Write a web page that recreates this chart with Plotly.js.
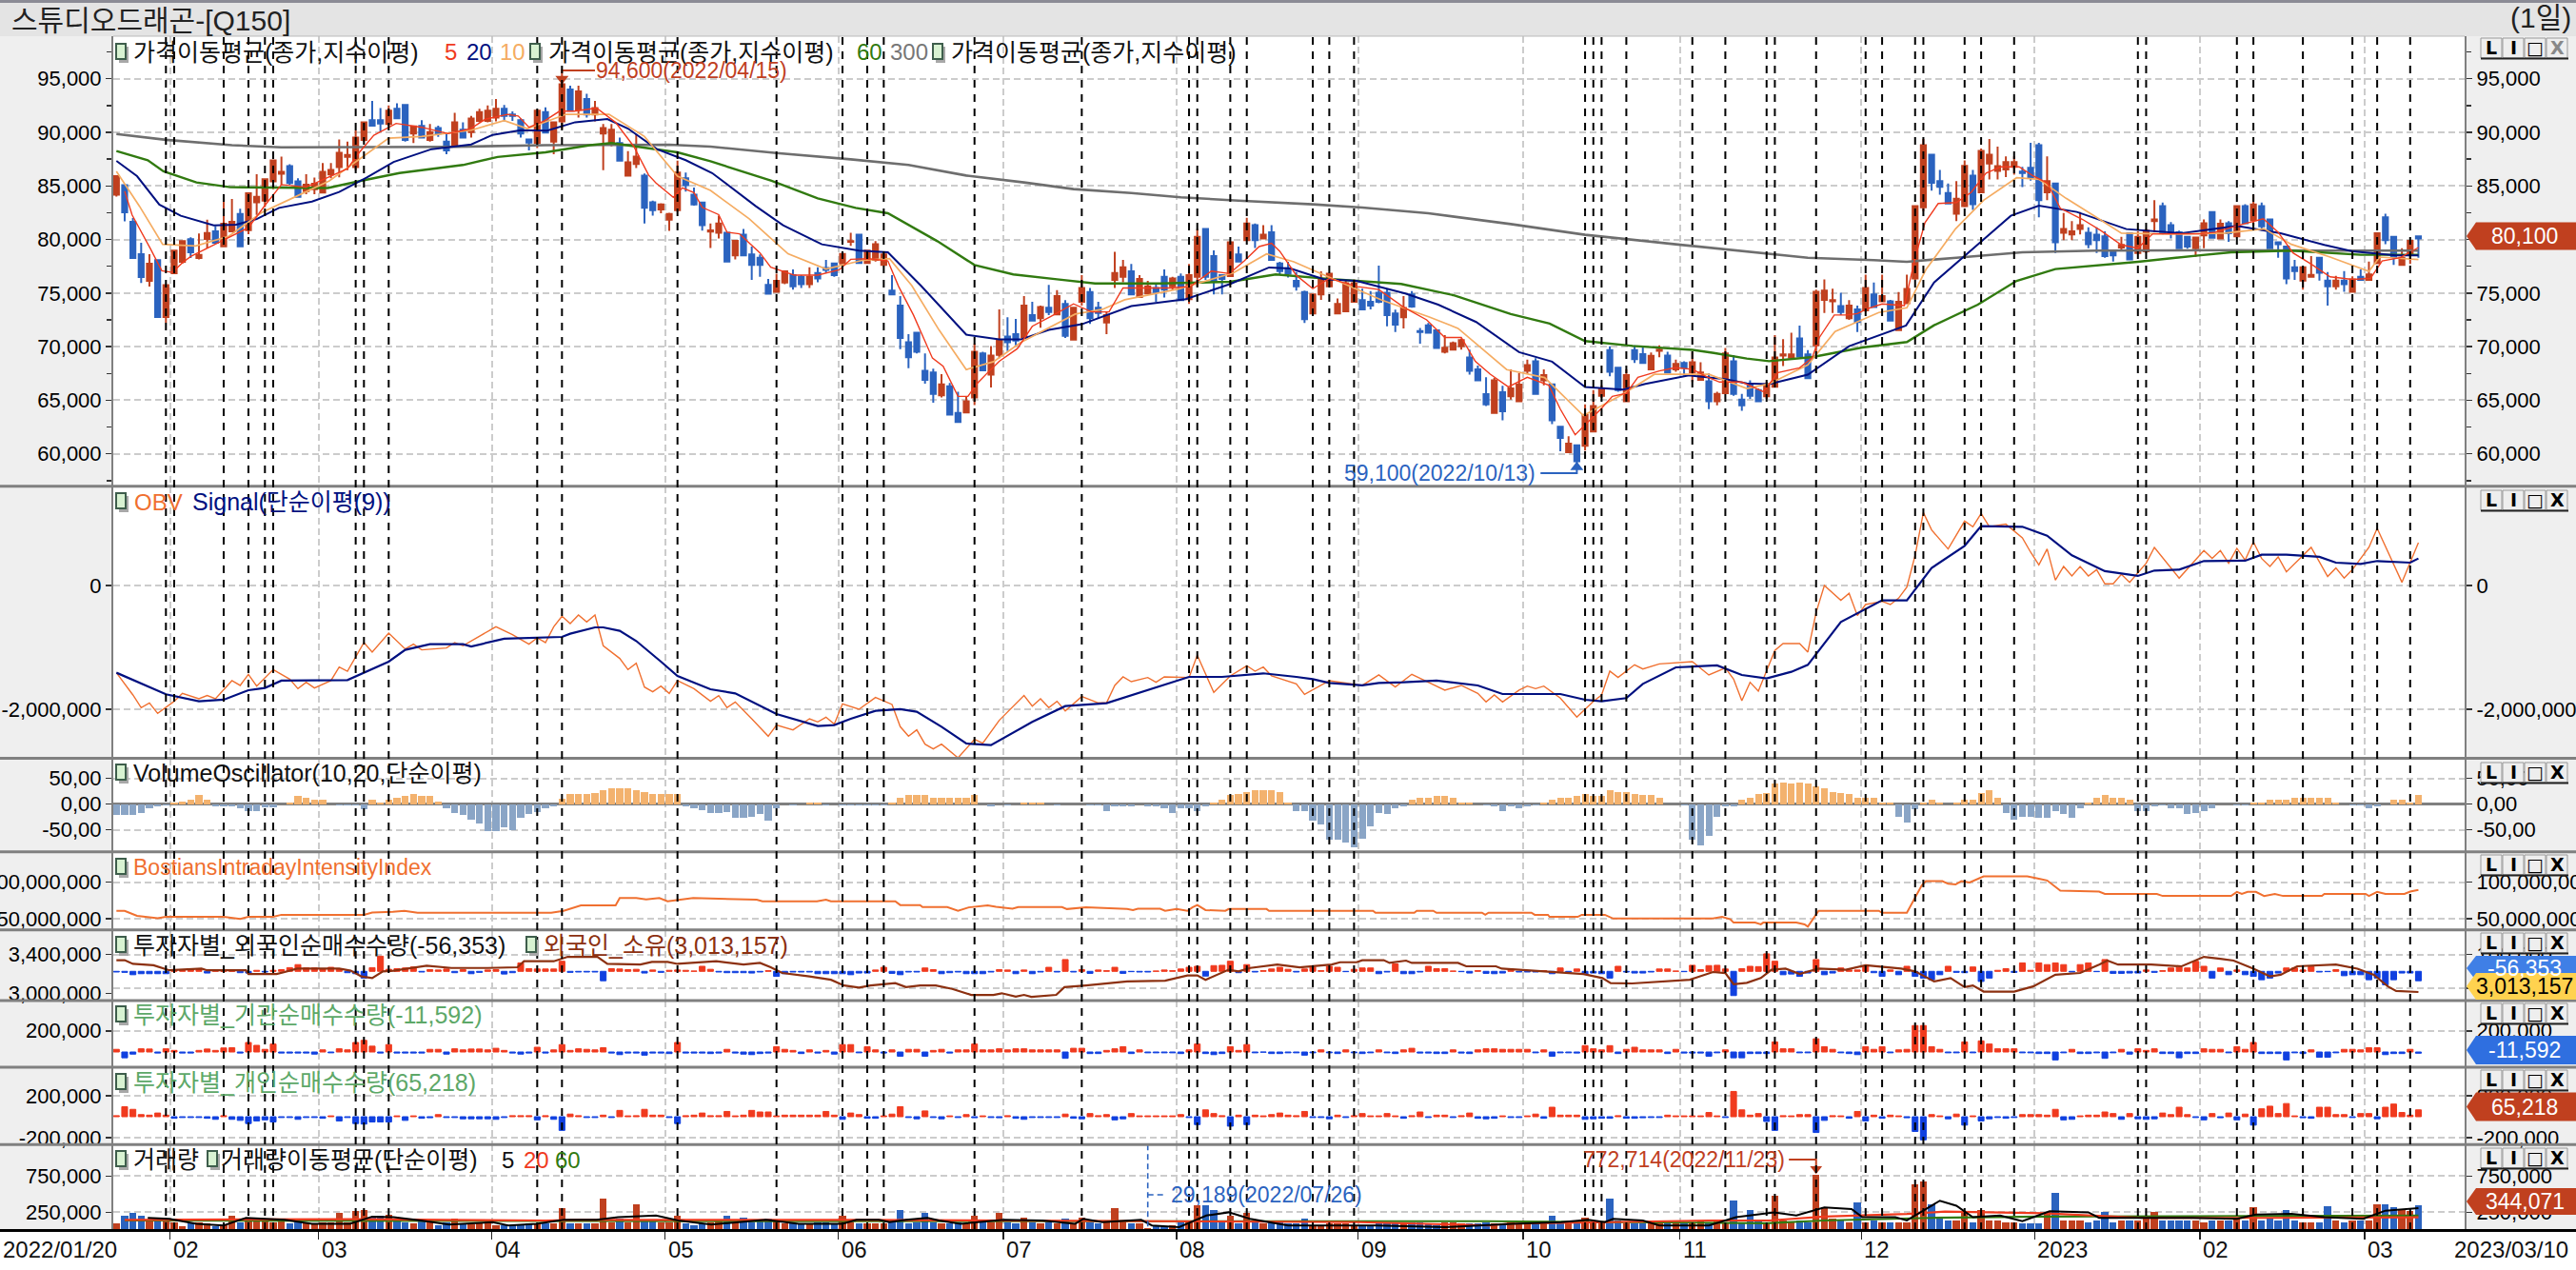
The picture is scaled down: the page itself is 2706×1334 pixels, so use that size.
<!DOCTYPE html>
<html><head><meta charset="utf-8">
<script src="https://cdn.plot.ly/plotly-3.0.1.min.js"></script>
<style>html,body{margin:0;padding:0;background:#fff;overflow:hidden}#c{width:2706px;height:1334px}</style>
</head><body><div id="c"></div>
<script>
// ---------- DATA ----------
const priceOpen=[84170,85060,81640,78630,76130,78070,72770,76850,77920,80030,
78270,80060,80770,79370,80770,82380,80860,83480,83630,85420,
86130,86840,85420,84520,84680,84370,86070,86760,87710,86760,
89280,91130,91130,90770,92200,92560,89880,90600,89280,90390,
89140,88750,90240,90030,91070,91070,91370,92200,91670,91130,
89340,88990,91880,89140,91010,93990,92110,93100,91670,89880,
88990,88990,85950,87050,85950,83480,82800,81840,82740,85710,
84170,83450,80740,80620,80620,78510,80440,78600,78300,75770,
75120,75980,76670,76520,75830,76870,77350,77770,77770,79790,
80440,77800,78090,77620,75240,73840,70420,71310,67740,67590,
65450,66310,63810,63870,65270,69370,67380,69230,70950,71160,
70860,72950,72650,73630,73000,73990,70650,74190,75090,73630,
72260,76220,76520,77020,74640,74970,75470,76520,75620,76520,
74430,76520,80980,78450,76670,76580,78600,79940,81340,80090,
80680,77770,77320,76130,75090,73090,74880,75620,73090,73300,
74190,74340,74190,75030,75030,73090,72740,74880,71460,71990,
71520,69520,69730,70030,68990,67880,65560,63810,65740,65360,
64910,67740,68630,66850,66490,62530,60150,60800,60740,62080,
65420,69670,68030,64910,69670,69310,67890,69610,69170,67890,
68480,67590,66900,66760,64910,65650,68630,65060,66490,65950,
65360,66250,69170,68990,70770,69280,70120,74370,74230,73780,
72650,73480,73390,74880,74220,74220,71550,74050,76370,83000,
87910,85440,84340,82410,83120,85950,84400,87080,86400,86540,
86780,86340,86690,88810,84400,85230,80620,80470,80980,80620,
80440,80290,78980,79250,80590,78750,78900,81720,83120,81340,
80680,80240,79190,80380,82560,80090,81510,80290,83120,81810,
83120,81870,79730,79340,77410,76160,76520,78300,76160,75620,
76160,75120,76520,76220,77790,82080,80240,77620,78600,80300];
const priceHigh=[85920,85060,82000,79700,78630,78070,75740,78960,79850,80210,
80560,81840,81250,83780,83780,82880,84310,86100,85620,87380,
87740,87020,85710,86100,85770,87140,87140,89340,89140,90180,
90920,92920,92260,92500,92710,92560,90560,91130,90770,90620,
89820,91810,90920,91520,92200,92500,93100,92560,91960,91280,
89340,92020,92320,90920,94600,94340,94340,93600,92920,90770,
90770,89520,88240,89840,86160,83630,83390,82500,87350,86250,
84850,83450,81490,82230,80620,79880,80980,79340,78600,76310,
76800,77020,77200,76670,77410,77410,78090,77770,78900,80620,
80440,78960,79850,78900,76670,74730,71160,71310,69370,67950,
67440,66610,65800,65360,70270,69520,70060,73480,72740,72590,
74730,74190,73840,75770,75270,74340,73630,76670,75480,74190,
73240,78840,78090,77710,76670,76130,75920,77200,76520,76820,
77710,80980,80980,78990,76670,79850,79340,82030,81490,81340,
81340,77910,77910,76960,75240,74880,77020,76810,74490,76280,
76280,75410,75180,77560,75410,73450,74730,75180,71750,72200,
71520,71070,70470,70770,69730,68240,67140,67080,66340,67890,
67530,68780,68930,67890,66490,62530,61640,60800,64610,65950,
66400,70030,68030,67890,70120,69970,69460,70120,69520,68780,
68630,69520,68540,67500,65800,69880,69220,65590,66850,66100,
66700,71070,70710,71310,71960,69670,75330,76280,75410,75030,
74340,73840,76720,75980,76720,74370,75090,76720,83120,89370,
87910,86480,85230,85440,87380,86480,88480,89370,88660,87760,
87760,86780,89010,89010,87760,85230,82470,81720,82560,81130,
81130,80770,78980,80240,80590,80770,80980,83660,83450,81630,
80830,80240,80180,81870,82560,81870,81720,83120,83300,84190,
83450,81870,79730,79340,78090,77410,78450,78300,76960,76600,
77050,76570,77200,77940,80680,82410,80240,79190,79880,80300];
const priceLow=[84000,81700,78270,75950,75600,72770,72230,76850,77740,78270,
78130,79170,79700,79370,80770,79370,80500,82290,83030,84680,
85120,85120,83990,84230,84230,84370,85710,85800,86460,86460,
89140,90620,90030,90620,91220,89140,88990,89520,89140,89580,
87950,88750,89520,89520,90920,90920,91010,91010,91070,89520,
88300,88540,89970,87950,90330,92020,91370,91370,91010,86460,
88690,87260,85950,86660,81490,82230,82440,80800,82600,84460,
83150,80830,79200,80090,77950,78150,78510,76220,76520,74940,
75030,75830,75330,75480,75480,76010,76870,76520,77710,79400,
77800,77800,77950,77620,74880,69760,67980,69370,66550,64760,
65270,63660,62980,63870,64550,67800,66190,68930,69580,70120,
70860,72440,71760,72950,73000,70800,70650,73840,72110,72650,
71160,75480,76010,74880,74640,74880,74190,74580,75330,74340,
73990,75620,76220,74880,74880,76520,77950,79940,79200,80090,
78090,76720,76460,75240,72200,73090,74370,75620,73090,73300,
74190,73480,73480,74050,71900,71370,71700,73630,70270,71310,
69880,69370,69730,69730,67380,66850,64460,63810,63120,65060,
64910,67440,65590,66400,62770,60240,60060,59100,60300,62080,
65210,67230,65800,64910,68480,68480,67890,69010,67590,67650,
67290,66700,66900,64170,64520,65650,65420,64020,65120,64910,
65120,66250,68180,68990,69070,67050,69220,73150,73150,72950,
72500,71370,73240,73690,74220,72440,71550,74050,76220,82620,
84550,84190,83360,81720,83000,82760,84400,85590,85590,85830,
86040,84900,85500,82080,83660,78750,79940,79940,80470,79190,
78750,78300,77940,79050,78150,78750,78750,80680,80470,80090,
79190,79130,78390,79190,80150,80090,79790,80290,81510,81280,
80830,79190,78300,75830,76220,75330,76500,76160,73840,75330,
75120,75120,76220,76220,77710,79550,77620,77620,77710,78300];
const priceClose=[85920,82530,78270,76490,77740,72770,75740,78960,79850,78810,
78570,80600,79700,81460,81640,79370,84310,83990,85620,87380,
86310,85270,83990,85120,85210,86310,86490,88090,87890,89520,
90920,90620,90830,92020,91310,89280,90560,89520,90030,89880,
88300,90920,89520,91280,91880,92020,92200,91520,91520,89880,
89050,92020,89970,90920,94490,92020,93810,91670,92260,90390,
90240,87350,87200,87740,82950,82740,83270,82380,86250,85060,
83270,81340,80840,81490,77950,79880,78510,77620,77620,74940,
76130,77020,75620,75830,76520,76370,77170,76670,78660,79860,
77800,78960,79550,78600,74880,70800,69020,69520,66900,65600,
66490,63660,62980,64910,69520,67800,69170,70560,70420,70560,
73840,72440,73690,73240,74730,71010,73630,75480,72650,73150,
72950,76870,77410,74880,76310,75620,75090,75330,76370,74340,
76670,80240,76520,76130,76310,79730,77950,81490,79940,80440,
78090,77050,76810,75620,72560,74880,76220,76810,73990,75920,
75920,73480,73840,74190,72950,72050,73600,73750,71370,71310,
69880,69910,70330,70620,67740,66850,64610,66850,63960,66100,
66460,68270,65590,67350,63120,61490,60950,59300,63630,64460,
66100,67650,65950,67350,68840,68480,69140,69730,67590,68390,
68030,68540,67590,64910,65590,69370,65590,64520,65420,64910,
66490,68990,69280,69280,69070,67050,75120,75240,74340,73240,
73840,72290,75470,73690,74730,72440,74190,75380,83120,88810,
85290,84910,83360,83810,86870,83300,88270,87910,86840,87230,
87230,86190,85830,83660,85440,79730,80980,80770,81340,79550,
79940,78450,78510,79490,78150,80240,80830,81870,80680,80620,
79190,79340,80180,81510,80150,81480,80590,83120,81510,83270,
81220,79190,79550,76370,77050,77410,76700,76900,75620,76160,
75830,76280,76220,76750,80590,79940,78360,78300,79880,80100];

const ma5Idx=[1,1.9,4.1,5.5,6.8,8,9,11.4,13,16,18,20,23,25.3,28,29.4,31.2,33.9,37,40.2,42.9,44.7,47.4,48.7,50,51.9,53.7,55.5,58.2,60.5,62.7,64.5,65.4,67.5,68.6,70,71,73,74,75.5,78,79.3,82.2,85,87.6,89,91.2,93.5,94.8,96.6,98.9,100.2,102,103.2,104.3,106,107,109.2,111,113.2,116,118.2,120.3,122,124.5,127.7,130.2,132.7,134.9,136.7,138.5,140,141,143,145,147,150.3,153,156,158.8,161,163,164.7,166.5,168.7,171,173.6,175,176.8,178,179.9,181.3,183,184.4,187,188.9,191,192.9,194.3,197,199.6,201.4,204,205.5,206.4,208.2,209.7,211,212.2,214,216.7,218,219.2,220.8,223,224.8,226.6,228.4,230.6,232.4,234,235.6,238.3,240.5,243,245,246.8,250,252.6,254.4,257,260.2,262,263.8,266,268.3,271,273.2,274.6,276.8,279];
const ma5Val=[84500,82290,79170,77080,76930,77830,78420,79320,79910,81100,83180,85120,84880,85700,86600,88090,89730,90830,90470,89880,90330,91220,91670,91520,90470,91070,91970,91970,92260,90920,88690,86010,85270,83930,84820,84370,83000,82320,80680,80530,78750,77410,76670,76670,77170,78150,78210,78000,75620,72950,68930,68180,65360,65360,66550,67890,68630,69820,71900,72800,73990,73240,73240,75480,75480,75480,75620,77050,76820,78010,79340,79640,78900,76660,75410,76370,75620,75330,73690,72500,70860,70860,68630,67440,66250,67140,66400,64170,61780,62680,64170,65360,65650,67140,67740,68030,67890,67140,66700,66700,65800,67590,68030,68930,70860,72950,72950,73090,73540,73990,73840,78300,81570,83360,83450,84400,86190,86780,86780,85890,85290,82910,81870,80830,79490,79190,80530,80530,80530,80680,81280,81930,80680,78750,77710,76520,76280,76370,78000,78300,79250];
const ma10Idx=[0,2.8,5.6,9.6,13.6,17.6,21.7,25.8,29,33,37,43,47,49.8,54.5,59.7,64,68,72,76.7,81.4,86,90.5,93.7,96.4,99.7,103,106.3,109.6,112.9,116.2,119.5,122.2,128.8,135.4,139.4,142.7,148,153.3,159.2,162.6,168.5,173.1,177.8,182.4,186.4,193,197.6,200.3,205,208.3,213.6,217,219.3,222.9,226.3,230.3,233,236.3,240.3,243,248.9,255.6,260.3,263.6,268.3,273,274.3,279];
const ma10Val=[86360,83100,79550,79400,80290,82510,83990,85470,87240,89460,89610,90200,91090,90350,91680,91680,89610,85910,84580,81920,78660,77240,78070,78210,75700,71560,67860,68600,70380,71710,73040,73480,74370,75400,76890,78660,77920,76140,74370,72740,71710,67860,67120,63570,65490,67420,67420,66090,66530,68300,71410,73190,73630,77180,81000,83660,85760,85610,83840,81920,80590,80500,80590,81000,79550,78360,77030,78360,78130];
const ma20Idx=[0,2.5,5.2,7.8,11.8,14.5,17,19.7,23.7,27,30.3,33.6,38.2,43,45.6,49,52.2,55.6,59.5,62,65.5,69,72.2,77.5,80.8,85.5,90,93.5,97.5,100,103,107,109.6,113,117,123,129.6,135,139.7,142.3,146.3,150.3,156.2,160.2,164.8,170,174,178,182.6,185.3,190.6,195,197.6,200.3,205,210,216.9,220.3,225.6,229.6,233,237.6,243.6,250.3,257,262.3,267.6,271,276.3,279];
const ma20Val=[87330,85910,83250,82210,81320,81380,81900,82950,83540,84430,85760,87240,88430,88870,89760,90200,90150,90940,91240,90350,88430,87400,86200,83100,81320,79550,78960,78810,75700,73630,71120,70670,70670,71560,72090,73780,74430,75850,77390,77300,76290,76140,74960,73920,72300,69490,68600,66230,66000,66530,67320,66960,66570,66500,67390,70050,71980,75990,79550,82210,83160,82570,80970,80590,81270,80590,79490,78900,78510,78510];
const ma60Idx=[0,3.8,5.7,9.7,13.8,19,25.6,29.6,34.3,42,46.2,52,57.4,60,68,72,79.4,85,89.6,93.5,99.5,104,108.7,114,118.6,126.5,135,140.5,146.5,155.7,162,169,173.7,178,183.8,191,193.6,197.6,200.3,205.6,211.6,217,220.3,225.6,230.3,235,245,252.3,256.3,263.6,272,279];
const ma60Val=[88250,87400,86360,85320,84880,84820,84800,85470,86200,86950,87700,88130,88800,89000,88130,87300,85470,83840,82950,82450,79840,77620,76740,76290,75900,75900,76050,76740,76350,75850,74810,73040,72150,70520,70070,69700,69410,68890,68650,69030,69920,70430,72000,73920,76140,77240,77920,78510,78810,78960,78570,78570];
const ma300Idx=[0,6,14,20,41,52,67,72,80,89,96,103,110,116,123,129,136,145,151,159,169,178,189,193,200,205,213,217,223,231,240,257,267,279];
const ma300Val=[89850,89300,88800,88600,88650,88800,88850,88660,88070,87480,86950,85970,85320,84700,84340,83930,83630,83280,82980,82450,81440,80440,79550,79250,78660,78300,78070,77920,78300,78810,78960,79010,78960,78960];

const obvIdx=[0,2,3,4,5,7,8,10,11,12,14,15,16,17,19,21,22,23,24,26,27,28,30,31,33,35,36,37,40,41,42,44,46,48,50,51,52,53,54,55,56,57,58,59,61,62,63,64,65,66,67,68,70,72,73,74,75,77,79,80,82,84,85,86,87,88,90,92,94,95,96,97,98,99,100,102,104,105,107,110,111,112,113,114,115,117,119,120,121,122,123,125,126,127,130,131,133,135,137,138,139,140,143,144,146,147,151,153,155,157,159,161,163,165,166,167,168,170,171,172,173,175,177,179,180,181,182,184,185,187,191,193,195,196,197,198,199,200,201,202,204,205,206,207,209,210,211,212,214,215,216,217,218,219,220,222,224,225,226,227,229,231,232,233,234,235,236,237,238,239,240,241,242,243,244,246,247,250,253,254,255,256,257,258,259,260,261,262,263,266,268,269,270,271,273,274,276,277,279];
const obvK=[-1410,-1769,-1974,-1897,-2067,-1872,-1744,-1831,-1779,-1831,-1538,-1615,-1436,-1626,-1359,-1513,-1667,-1564,-1656,-1538,-1318,-1385,-923,-1077,-769,-1026,-949,-1041,-1010,-923,-974,-820,-667,-795,-949,-846,-923,-667,-497,-615,-477,-590,-477,-974,-1179,-1359,-1256,-1641,-1718,-1626,-1744,-1538,-1667,-1872,-1779,-1974,-1882,-2154,-2436,-2256,-2333,-2154,-2205,-2128,-2241,-1913,-2000,-1810,-1923,-2282,-2436,-2333,-2564,-2641,-2564,-2785,-2487,-2549,-2179,-1779,-1949,-1831,-1974,-1872,-2026,-1795,-1897,-1897,-1615,-1477,-1554,-1487,-1564,-1477,-1487,-1128,-1728,-1462,-1297,-1385,-1318,-1462,-1590,-1759,-1605,-1538,-1615,-1446,-1641,-1436,-1564,-1692,-1615,-1744,-1882,-1769,-1882,-1692,-1626,-1667,-1626,-1820,-2128,-1872,-1769,-1385,-1487,-1282,-1349,-1267,-1231,-1446,-1333,-1513,-1861,-1564,-1708,-1385,-1051,-938,-938,-1077,-436,0,-241,-128,-487,-308,-256,-308,-205,-26,487,1179,897,590,1041,949,1164,949,990,769,538,333,590,87,308,154,308,154,256,26,26,179,51,359,615,118,564,436,564,359,600,410,703,436,308,462,220,615,144,282,118,256,615,923,359,51,692];
const sigIdx=[0,6,10,13,16,18,20,28,33,35,38,42,43,47,54,55,58,59,61,63,66,68,72,75,80,85,87,89,92,95,97,100,103,106,111,115,120,125,130,134,136,139,143,145,147,151,153,156,160,165,168,175,178,180,183,185,189,194,197,200,203,205,209,214,217,220,224,226,231,234,237,241,245,247,250,253,258,260,263,267,269,272,274,278,279];
const sigK=[-1410,-1759,-1872,-1846,-1692,-1656,-1538,-1528,-1231,-1041,-949,-949,-985,-861,-831,-779,-677,-677,-733,-897,-1231,-1462,-1677,-1744,-2077,-2272,-2256,-2154,-2026,-2000,-2041,-2282,-2554,-2579,-2205,-1949,-1902,-1692,-1477,-1477,-1451,-1420,-1477,-1513,-1574,-1615,-1574,-1564,-1538,-1615,-1754,-1754,-1846,-1872,-1820,-1590,-1323,-1292,-1446,-1503,-1395,-1282,-590,-241,-241,282,641,959,949,805,487,231,154,241,256,395,400,497,497,462,369,349,395,369,436];

const voValues=[-21,-21,-21,-17,-8,-5,-3,4,5,9,
17,9,-5,-5,-4,-8,-13,-13,-7,-6,
-1,4,16,12,8,8,0,-3,-3,-3,
-10,8,3,8,12,16,19,16,16,5,
-8,-17,-21,-30,-37,-53,-53,-45,-50,-27,
-20,-15,-8,-4,10,19,19,19,22,27,
31,31,31,27,23,20,20,20,20,-5,
-8,-12,-17,-17,-16,-27,-27,-24,-20,-32,
-8,0,-3,0,4,4,-3,0,-3,-3,
-3,-3,-3,-3,4,13,17,17,17,12,
12,12,12,12,17,0,-4,0,-3,0,
4,4,4,0,-3,0,0,0,-3,-3,
-13,-4,-4,-4,0,-4,-4,-8,-17,-8,
-8,-13,-4,4,8,17,19,23,27,27,
27,23,4,-13,-13,-33,-40,-70,-70,-75,
-83,-67,-43,-17,-20,-8,-4,8,12,12,
16,16,12,4,3,0,-3,-4,-13,-4,
-8,-4,-3,4,8,12,12,16,19,16,
16,27,23,23,19,17,17,12,0,0,
-3,-70,-80,-62,-25,-4,-4,8,12,19,
22,40,42,40,42,40,35,30,24,22,
20,12,12,12,4,4,-25,-36,-10,4,
8,4,0,4,8,8,22,27,12,-17,
-30,-24,-24,-27,-27,-13,-20,-27,-8,4,
13,17,13,12,8,-13,-13,-4,-3,-8,
-8,-20,-17,-13,-8,0,0,-3,-3,4,
4,8,8,8,12,12,12,12,12,4,
0,-3,-3,-8,-4,0,8,8,4,17];

const biiIdx=[0,1,2.5,5,6,13,15,16,19,20,30,31,33.5,34.9,36.5,52.7,54.2,56.3,60.5,61,63,64.2,65.8,66.8,69.9,77.6,78.3,84.9,86,86.6,94.4,95,97.4,97.7,100.7,102,103.3,105.6,106.6,108.6,109.3,114.6,115.2,117.5,122.5,123.2,123.8,126.5,127.1,128.5,129.8,130.4,131,132,134.4,134.8,139.4,139.7,152.3,152.6,157.3,157.6,159.6,160,165.5,165.9,166.3,171.5,171.9,173.5,173.7,177.1,177.6,180.4,181.4,193.5,194.6,195.6,196,198.6,199.3,199.6,203.6,204.6,205,205.6,206.3,213.6,214,217,218,218.8,219.3,221.3,222,222.9,223.6,224.6,226.3,231.6,233,234,235.6,240.3,241,247.3,248,252.6,256.3,257,257.6,258.3,259.3,260.3,261.6,262.6,267.3,267.6,272.6,273,274,275,277.3,278,279];
const biiVal=[60.6,60.6,53.7,50.5,52.3,52.3,49.5,52.3,52.3,55.1,55.1,58.3,59.3,60.6,57.9,57.9,60.6,68,68,78.2,78.2,76.4,78.2,73.6,78.2,75.9,73.6,73.6,75.9,73.6,73.6,68.5,68.5,65.7,65.7,60.6,65.3,68,66,63.4,65.7,65.7,63,65.3,63,61.6,63.4,63.4,60.6,63,60.6,65.3,68.5,61.6,60.6,63,63,60.6,60.6,57.9,57.9,60.6,60.6,57.9,57.9,55.1,57.9,57.9,55.1,55.1,52.3,52.3,55.1,55.1,50,50,52.3,49,44.4,44.4,42,44.4,44.4,42,38.9,49,60.6,60.6,57.9,57.9,79,95.4,101.4,101.4,97.7,96.8,101.4,99.6,107.9,107.9,104.6,102.3,88.4,87,83.8,83.8,81,81,81,86.6,83.8,86.6,86.6,81,83.8,81,81,83.8,83.8,81,86.6,83.8,83.8,87,89.3];

const holdIdx=[0,1,2,4.5,6.4,10.3,11,15.7,16,19.4,20.4,21.9,27,28.4,29.7,31,32.3,33.6,37.6,40.6,45,48.6,49.4,53,54.7,58.3,59.5,63.5,64.9,66.8,68,72.7,76,78,79.3,80.7,84,86.6,88.2,90,91.4,94.4,95.7,97.4,99.3,101.3,103.6,106.3,107.3,109,110,110.9,113.9,114.9,117.5,120.5,122.5,127.1,129.8,131,132,134.8,136,137.4,140.7,143.4,147.3,148.3,150.3,151,153.6,154.3,156.3,157,162.6,163.6,167.2,167.9,173.5,177.8,180.1,181.1,183.7,187.4,190.7,193.5,195,196,197.6,199.3,200.6,202.3,204,206.3,209.6,212,216.3,218,220.3,222.3,224,225,226.3,230,232.3,235,238,240.3,241.3,242.6,246.6,250.3,253,255,256.6,259,261,262.3,264.3,269,271.6,273.6,275.3,276.3,277.6,279];
const holdK=[3341,3341,3303,3289,3237,3254,3237,3237,3198,3198,3219,3254,3254,3233,3174,3157,3226,3233,3285,3261,3261,3268,3330,3330,3376,3376,3303,3296,3323,3323,3303,3330,3296,3313,3268,3209,3174,3139,3080,3059,3080,3104,3063,3080,3080,3045,2983,2983,3000,2965,2983,2962,2983,3063,3080,3104,3122,3129,3184,3184,3139,3243,3226,3261,3296,3268,3296,3320,3320,3341,3341,3313,3337,3313,3313,3278,3278,3254,3219,3198,3157,3104,3101,3122,3139,3219,3209,3094,3108,3157,3243,3254,3198,3254,3243,3289,3254,3226,3122,3157,3063,3080,3017,3017,3070,3191,3209,3296,3337,3296,3296,3278,3376,3355,3337,3254,3174,3191,3278,3296,3254,3191,3070,3024,3017,3013];

const foreignA=[-4,-6,-20,-14,-14,-14,-14,8,10,12,10,-10,4,2,2,-8,-10,6,-4,6,10,22,40,20,20,14,24,14,-8,-14,-40,22,90,12,16,20,26,-4,10,8,14,-8,10,-14,-6,8,10,-16,-8,50,16,14,14,14,60,-6,-4,-4,-4,-56,16,14,10,12,-10,8,-6,6,8,6,2,30,12,-4,-8,-8,-8,-10,-4,4,-30,-14,-4,-4,-4,-14,-14,-14,-14,-20];
const foreignB=[-10,-10,8,24,-12,-20,-4,-4,20,10,-14,-8,-4,-14,-14,-14,-4,10,8,-14,8,-14,-4,24,-4,70,-4,10,-12,8,4,24,-12,-2,-4,-4,2,8,4,14,24,30,-28,34,36,60,-8,40,-4,4,14,24,12,-4,14,24,4,30,24,-2,12,20,20,-14,-4,44,-14,-14,-4,30,16,16,2,-2,-10,4,-12,-14,-10,8,-4,-4,-4,4,-14,20,-4,14,-16,-10,-14,-40,30,-4,-10,-10,-4,14,14,2,-2,36,10,34];
const foreignC=[36,14,-144,16,30,28,104,60,-20,-16,-30,-10,70,-20,-10,20,8,8,30,-8,-30,8,-20,30,-30,-40,-50,-20,30,-6,-8,26,-60,-40,6,16,-6,50,6,50,40,50,40,-4,40,50,-2,70,-12,-12,-10,-10,8,-6,4,20,24,20,60,30,-40,20,-20,8,-20,-30,-50,-40,-10,20,20,8,28,-4,-2,10,-26,-20,-20,-50,-40,-80,-50,-10,-10,-56];
const institutionA=[25,-55,-20,30,28,-10,30,15,-10,-10,15,28,15,38,40,-10,90,63,25,75,-10,-10,-10,-10,-20,20,-8,30,20,90,110,55,-10,70,-10,-10,-10,-10,25,25,-20,30,20,28,28,20,35,15,-10,-20,-10,45,-10,20,70,15,30,25,20,40,-10,-25,-10,-10,-30,-10,-10,-15,90,-10,-10,-10,-15,-10,25,-10,-20,-25,-15,-10,50,25,15,-15,20,-10,15,-20,70,70];
const institutionB=[-8,50,20,-10,20,-40,25,25,-40,15,25,-10,20,20,75,20,20,30,20,30,30,20,20,20,20,-60,35,35,-15,-15,15,30,50,-15,20,-8,-8,-8,-8,-15,20,75,-15,-25,-15,50,15,70,-8,-2,-15,-15,-8,-8,-30,-8,20,-8,-15,20,-8,-15,-8,20,-8,-15,20,35,-10,-10,-15,-15,20,-10,-15,20,30,30,25,25,25,25,-8,20,-40,-8,-8,-10,60,30,20,60,-15,25,45,20,20,20,-15,25,-10,-10,-10,-40];
const institutionC=[-8,20,-55,-55,-15,-15,-15,95,30,30,-8,-8,125,50,25,-8,-15,-25,50,25,50,-8,20,25,250,250,50,25,-8,-8,95,-8,105,75,30,30,30,-8,-8,-15,-15,-75,-8,25,-15,-15,-8,-60,-8,25,-20,30,15,30,-15,-15,-55,-15,-15,30,25,25,-8,50,25,90,-15,-15,-15,-75,-8,-15,20,-50,-50,-8,25,25,20,40,40,-25,-15,-15,25,-11.6];
const individualA=[10,95,70,20,15,35,15,-15,-8,-8,-8,-15,-25,10,-25,-35,-65,-40,-30,-50,-8,-8,-25,-8,-8,-15,8,-40,-8,-65,-70,-50,-50,-50,8,-35,8,-15,-10,20,-8,-8,-20,-20,-20,-20,-25,-8,10,10,10,-30,10,-25,-130,25,10,-8,-8,15,-8,60,8,10,70,15,15,-8,-65,10,15,35,10,10,50,8,15,60,45,45,8,15,15,15,15,15,50,15,-25,35];
const individualB=[20,-15,-15,8,25,95,-8,-20,55,-8,-20,8,-8,20,-10,8,-8,-10,10,-15,-25,-8,-8,-8,-8,25,-15,-20,30,10,20,-30,-20,30,8,8,8,8,8,20,-8,-75,65,30,10,-90,15,-75,15,8,20,35,15,10,50,-8,-8,-20,15,-8,10,30,8,8,30,8,-15,10,45,-8,15,15,-8,10,35,-15,-20,-15,8,-8,-8,8,25,-15,90,15,15,15,-25,-20,-15,-15,10,-15,-15,-10,-8,-8,15,8,8,8,8,40];
const individualC=[8,-8,240,65,15,30,-45,-130,10,8,20,20,-150,-35,10,8,-15,50,-40,15,-15,15,8,-10,-140,-220,20,8,-20,25,-80,8,-40,-20,-8,-15,-8,20,20,20,15,70,-30,-25,8,15,15,45,30,-25,30,-20,-25,-20,35,20,90,20,-8,-30,30,-10,35,-30,25,-80,75,100,30,125,8,-10,-15,90,90,20,20,-8,30,30,-20,90,120,40,15,65];

const volumeK=[91,205,236,205,137,137,137,114,59,114,
114,91,59,68,205,114,182,137,160,114,
137,91,114,114,91,114,114,236,114,264,
282,182,205,214,160,114,91,137,137,68,
114,160,91,82,91,91,68,68,68,68,
91,91,91,91,309,91,91,91,91,441,
114,160,114,364,137,137,114,114,205,91,
68,91,114,137,205,114,182,114,137,160,
137,91,91,91,91,114,114,91,205,114,
91,91,91,91,114,282,91,114,236,114,
91,91,114,91,205,137,114,236,114,91,
182,114,91,114,91,160,91,182,114,91,
114,309,137,91,91,29.189,59,59,68,114,
137,341,341,282,114,205,91,236,137,91,
114,137,91,91,160,68,68,91,91,91,
68,68,68,114,114,114,114,114,114,91,
68,114,114,91,91,91,114,91,91,114,
91,91,114,114,205,114,91,91,171,91,
114,441,137,91,91,91,114,114,91,91,
114,91,137,91,137,114,418,114,282,137,
91,478,137,114,137,114,772.714,318,160,137,
114,387,114,137,114,114,114,114,637,673,
364,160,137,137,273,114,282,137,137,114,
114,91,91,91,250,514,137,137,137,114,
137,259,114,137,137,137,182,250,137,137,
137,137,137,114,137,137,137,160,137,318,
137,160,137,282,137,114,114,114,328,137,
114,137,137,137,364,364,318,296,273,344.071];
const volMa5Idx=[3.8,6.4,9.7,13,15.7,20.4,23.7,28.3,31,33.6,36.9,40.3,45.6,47.5,50.9,54.2,58.2,60.8,65.4,68.1,72.1,78.7,82.7,88,89.7,92.4,93.7,95.7,98.3,99.7,102.3,107.6,112.2,116.2,117.2,119.5,124.2,125.5,128.8,132.1,134.8,137.4,142,152.6,161.2,169.2,175.1,178.4,180.4,181.4,185,187,193,196.3,200.9,203.6,207,210.3,211.6,215.6,217,219,221,223,225,228.3,231,234.3,239,240.3,251.6,257,259.3,263.6,267.6,272.3,275,279];
const volMa5=[173,159,91,68,173,146,91,91,191,182,137,82,114,68,91,146,146,182,205,137,82,146,91,91,146,146,114,146,173,137,91,146,137,91,159,114,146,68,46,205,250,159,68,68,46,91,114,146,114,159,137,68,68,182,250,205,318,296,182,182,137,273,410,341,182,205,127,264,250,173,173,159,218,228,182,159,273,309];
const volMa20Idx=[1,30,40,52,56,90,150.6,166.5,168.5,179.8,187.7,193,200.3,207,217,221.6,233.6,245.6,260.3,279];
const volMa20=[146,155,146,137,146,146,114,68,91,114,127,137,137,191,228,259,237,173,173,182];
const volMa60Idx=[1,60,90,166,193,200,207,220,233.6,279];
const volMa60=[137,127,127,127,100,100,137,173,191,205];

const monthTicks=[7,25,46,67,88,108,129,151,171,190,212,233,253,273];
const monthLabels=['02','03','04','05','06','07','08','09','10','11','12','2023','02','03'];
const eventIdx=[6,7,13,16,18,19,29,30,33,51,54,68,80,88,91,93,104,117,130,131,135,137,145,147,150,178,179,180,183,191,195,200,201,206,212,214,218,219,224,226,230,245,246,257,259,265,271,274,278];

const priceTicks=[60000,65000,70000,75000,80000,85000,90000,95000];
const priceTickText=['60,000','65,000','70,000','75,000','80,000','85,000','90,000','95,000'];
const priceMinorTicks=[57500,62500,67500,72500,77500,82500,87500,92500,97500];

// ---------- STYLE ----------
const W=2706,H=1334,NUM="'Liberation Sans','Noto Sans CJK KR',sans-serif";
const RED='#C0401F',BLUE='#2B63BF',VRED='#F03A1E',VBLUE='#1040E0';
const X=p=>p/W,Y=p=>1-p/H;
const panels=[[38,510.7],[510.7,796.6],[796.6,894.8],[894.8,976.8],[976.8,1051],[1051,1121],[1121,1202.3],[1202.3,1292.4]];
const dom=i=>[Y(panels[i][1]),Y(panels[i][0])];
const indices=n=>Array.from({length:n},(_,i)=>i);
const seq=(s,a)=>a.map((_,i)=>s+i);
const n=priceClose.length;
const xs=indices(n);
const line=(x,y,ax,color,width,extra)=>Object.assign({type:'scatter',mode:'lines',x,y,yaxis:ax,xaxis:'x',line:{color,width},hoverinfo:'skip',showlegend:false},extra||{});
const signed=(a,up,down)=>a.map(v=>v>=0?up:down);
const bar=(x,y,ax,color,w,lw)=>({type:'bar',x,y,yaxis:ax,xaxis:'x',width:w,marker:{color,line:{width:lw||0,color}},hoverinfo:'skip',showlegend:false});

const traces=[];
traces.push({type:'candlestick',x:xs,open:priceOpen,high:priceHigh,low:priceLow,close:priceClose,yaxis:'y',xaxis:'x',
 increasing:{line:{color:RED,width:2},fillcolor:RED},decreasing:{line:{color:BLUE,width:2},fillcolor:BLUE},whiskerwidth:0,hoverinfo:'skip',showlegend:false});
traces.push(line(ma300Idx,ma300Val,'y','#6E6E6E',2.6));
traces.push(line(ma60Idx,ma60Val,'y','#317A10',2.4));
traces.push(line(ma20Idx,ma20Val,'y','#001080',2));
traces.push(line(ma10Idx,ma10Val,'y','#F5AC62',1.7));
traces.push(line(ma5Idx,ma5Val,'y','#F03A1E',1.4));
// peak / trough markers
traces.push(line([54,54,58],[94900,95770,95770],'y',RED,2));
traces.push(line([177,177,172.6],[59000,58200,58200],'y',BLUE,2));
traces.push({type:'scatter',mode:'markers',x:[54],y:[95000],yaxis:'y',xaxis:'x',marker:{symbol:'triangle-down',size:12,color:RED},hoverinfo:'skip',showlegend:false});
traces.push({type:'scatter',mode:'markers',x:[177],y:[58750],yaxis:'y',xaxis:'x',marker:{symbol:'triangle-up',size:12,color:BLUE},hoverinfo:'skip',showlegend:false});

traces.push(line(obvIdx,obvK,'y2','#F07030',1.4));
traces.push(line(sigIdx,sigK,'y2','#001080',2.2));
traces.push(bar(xs,voValues,'y3',signed(voValues,'#F3B26E','#8AA5C6'),0.82));
traces.push(line(biiIdx,biiVal,'y4','#F07030',2));

traces.push(bar(seq(0,foreignA),foreignA,'y5',signed(foreignA,VRED,VBLUE),0.7,1));
traces.push(bar(seq(90,foreignB),foreignB,'y5',signed(foreignB,VRED,VBLUE),0.7,1));
traces.push(bar(seq(194,foreignC),foreignC,'y5',signed(foreignC,VRED,VBLUE),0.7,1));
traces.push(line(holdIdx,holdK,'y13','#8C3010',2.2));

[[0,institutionA],[90,institutionB],[194,institutionC]].forEach(([s,a])=>traces.push(bar(seq(s,a),a,'y6',signed(a,VRED,VBLUE),0.7,1)));
[[0,individualA],[90,individualB],[194,individualC]].forEach(([s,a])=>traces.push(bar(seq(s,a),a,'y7',signed(a,VRED,VBLUE),0.7,1)));

traces.push(bar(xs,volumeK,'y8',xs.map(i=>priceClose[i]>=priceOpen[i]?RED:BLUE),0.85));
traces.push(line(volMa60Idx,volMa60,'y8','#317A10',2.2));
traces.push(line(volMa20Idx,volMa20,'y8','#F03A1E',2.2));
traces.push(line(volMa5Idx,volMa5,'y8','#000000',2));
traces.push(line([202.7,206,206],[979,979,860],'y8',RED,2));
traces.push({type:'scatter',mode:'markers',x:[206],y:[850],yaxis:'y8',xaxis:'x',marker:{symbol:'triangle-down',size:11,color:RED},hoverinfo:'skip',showlegend:false});
traces.push(line([125,125],[1185,50],'y8',BLUE,1.6,{line:{color:BLUE,width:1.6,dash:'6px,4px'}}));
traces.push(line([125,127.2],[492,492],'y8',BLUE,1.6,{line:{color:BLUE,width:1.6,dash:'6px,4px'}}));

// ---------- AXES ----------
const tf={family:NUM,size:22,color:'#000'};
const axBase={showline:true,linecolor:'#808080',linewidth:2,ticks:'outside',ticklen:6,tickwidth:1.5,tickcolor:'#333',
 tickfont:tf,tickmode:'array',zeroline:false,fixedrange:true,anchor:'x',showgrid:false,gridcolor:'#CCCCCC',griddash:'7px,4px',gridwidth:2};
const yDefs=[
 {r:[56980,98970],t:priceTicks,x:priceTickText,minor:priceMinorTicks,side:'left',grid:true},
 {r:[-2794,1604],t:[0,-2000],x:['0','-2,000,000'],side:'left',grid:true},
 {r:[-92.8,89],t:[50,0,-50],x:['50,00','0,00','-50,00'],side:'left',grid:true},
 {r:[34.3,141.6],t:[100,50],x:['100,000,000','50,000,000'],side:'left',grid:true},
 {r:[-173.7,246],t:[100,-100],x:['100,000','-100,000'],side:'right',grid:true},
 {r:[-144,486],t:[200],x:['200,000'],side:'left',grid:true},
 {r:[-265,470],t:[200,-200],x:['200,000','-200,000'],side:'left',grid:true},
 {r:[0,1185],t:[750,250],x:['750,000','250,000'],side:'left',grid:true}];
const layout={width:W,height:H,margin:{l:0,r:0,t:0,b:0},paper_bgcolor:'#fff',plot_bgcolor:'#fff',
 bargap:0,barmode:'overlay',boxgap:0.14,showlegend:false,hovermode:false,
 xaxis:{domain:[X(119),X(2589)],range:[-0.38,284.6],anchor:'y8',tickmode:'array',tickvals:monthTicks.map(v=>v-0.5),showticklabels:false,
  ticks:'outside',ticklen:9,tickwidth:1.5,tickcolor:'#222',showgrid:true,gridcolor:'#CCCCCC',griddash:'7px,4px',gridwidth:2,zeroline:false,
  rangeslider:{visible:false},fixedrange:true,showline:false}};
yDefs.forEach((d,i)=>{
 const k=i===0?'yaxis':'yaxis'+(i+1);
 layout[k]=Object.assign({},axBase,{domain:dom(i),range:d.r,side:d.side,tickvals:d.t,ticktext:d.x,showgrid:d.grid});
 if(d.minor) layout[k].minor={tickmode:'array',tickvals:d.minor,ticks:'outside',ticklen:5,tickcolor:'#333',showgrid:false};
 // companion axis on the opposite side, same scale unless it is panel 5
 const o=i+9,ok='yaxis'+o,ref=i===0?'y':'y'+(i+1);
 let c={r:d.r,t:d.t,x:d.x,minor:d.minor};
 if(i===4) c={r:[2924.3,3653.6],t:[3400,3000],x:['3,400,000','3,000,000']};
 layout[ok]=Object.assign({},axBase,{overlaying:ref,side:d.side==='left'?'right':'left',range:c.r,tickvals:c.t,ticktext:c.x});
 if(c.minor) layout[ok].minor={tickmode:'array',tickvals:c.minor,ticks:'outside',ticklen:5,tickcolor:'#333',showgrid:false};
 if(i!==4) traces.push({type:'scatter',mode:'lines',x:[0,0],y:[c.t[0],c.t[0]],yaxis:'y'+o,xaxis:'x',line:{width:0,color:'rgba(0,0,0,0)'},hoverinfo:'skip',showlegend:false});
});
layout.yaxis3.zeroline=true;layout.yaxis3.zerolinecolor='#808080';layout.yaxis3.zerolinewidth=3;

// ---------- FRAME ----------
const shapes=[],ann=[];
const rect=(x0,y0,x1,y1,fill,layer,ln)=>shapes.push({type:'rect',xref:'paper',yref:'paper',x0:X(x0),x1:X(x1),y0:Y(y0),y1:Y(y1),fillcolor:fill,line:ln||{width:0},layer:layer||'below'});
const hline=(y,x0,x1,color,w)=>shapes.push({type:'line',xref:'paper',yref:'paper',x0:X(x0),x1:X(x1),y0:Y(y),y1:Y(y),line:{color,width:w},layer:'above'});
rect(0,38,119,1292,'#EFEFEF');rect(2589,38,2706,1292,'#EFEFEF');
rect(0,3,2706,38,'#E4E4E4');rect(0,0,2706,3,'#8B8B95');
panels.slice(0,7).forEach(p=>hline(p[1],0,2706,'#808080',3));
hline(38,119,2589,'#BBBBBB',1);
hline(1292.4,0,2706,'#000000',3);
eventIdx.forEach(v=>shapes.push({type:'line',xref:'x',yref:'paper',x0:v,x1:v,y0:Y(1292),y1:Y(38),line:{color:'#000',width:2,dash:'8px,7px'},layer:'above'}));

const text=(s,xp,yp,color,size,anchor,extra)=>ann.push(Object.assign({xref:'paper',yref:'paper',x:X(xp),y:Y(yp),text:s,showarrow:false,xanchor:anchor||'left',yanchor:'middle',
 font:{family:NUM,size:size||25,color:color||'#111'},borderpad:0,borderwidth:0},extra||{}));
const icon=(xp,yc)=>{rect(xp+3,yc-6,xp+13,yc+11,'#A8A8A8','above');rect(xp,yc-9,xp+10,yc+7,'#D8F2D2','above',{color:'#3E5E4C',width:2});};
const GREEN='#5DA868';
icon(122,55);text('가격이동평균(종가,지수이평)',140,55);text('5',467,55,'#F03A1E',24);text('20',490,55,'#001080',24);text('10',525,55,'#F5AC62',24);
icon(557,55);text('가격이동평균(종가,지수이평)',576,55);text('60',900,55,'#317A10',24);text('300',935,55,'#777',24);
icon(980,55);text('가격이동평균(종가,지수이평)',999,55);
icon(122,527);text('OBV',141,527,'#F07030',24);text('Signal(단순이평(9))',202,527,'#001080',25);
icon(122,812);text('VolumeOscillator(10,20,단순이평)',140,812,'#111',25);
icon(122,911);text('BostiansIntradayIntensityIndex',140,911,'#F07030',23);
icon(122,993);text('투자자별_외국인순매수수량(-56,353)',140,993);icon(553,993);text('외국인_소유(3,013,157)',571,993,'#8C3010',25);
icon(122,1066);text('투자자별_기관순매수수량(-11,592)',140,1066,GREEN,25);
icon(122,1137);text('투자자별_개인순매수수량(65,218)',140,1137,GREEN,25);
icon(122,1218);text('거래량',140,1218);icon(218,1218);text('거래량이동평균(단순이평)',232,1218);text('5',527,1218,'#111',24);text('20',550,1218,'#F03A1E',24);text('60',583,1218,'#317A10',24);

text('스튜디오드래곤-[Q150]',12,21,'#222',30);
text('(1일)',2701,19,'#222',30,'right');
text('94,600(2022/04/15)',626,74,RED,23);
text('59,100(2022/10/13)',1412,497,BLUE,23);
text('772,714(2022/11/23)',1663,1218,RED,23);
text('29,189(2022/07/26)',1230,1255,BLUE,23);
text('2022/01/20',3,1312,'#111',24);
text('2023/03/10',2698,1312,'#111',24,'right');
monthTicks.forEach((v,i)=>ann.push({xref:'x',yref:'paper',x:v-0.5,y:Y(1312),text:monthLabels[i],showarrow:false,xanchor:'left',yanchor:'middle',xshift:1,font:{family:NUM,size:24,color:'#111'}}));

// value tags on the right axis
const tag=(yc,h,fill,txtColor,s)=>{
 shapes.push({type:'path',xref:'paper',yref:'paper',fillcolor:fill,line:{width:0},layer:'above',
  path:`M ${X(2591)} ${Y(yc)} L ${X(2601)} ${Y(yc-h/2)} L ${X(2706)} ${Y(yc-h/2)} L ${X(2706)} ${Y(yc+h/2)} L ${X(2601)} ${Y(yc+h/2)} Z`});
 ann.push({xref:'paper',yref:'paper',x:X(2652),y:Y(yc),text:s,showarrow:false,xanchor:'center',yanchor:'middle',font:{family:NUM,size:23,color:txtColor}});
};
// toolbar buttons
const btnGlyphs=['L','I','□','X'];
const tops=[40,515,801,898,980,1054,1124,1206];
tops.forEach((t,pi)=>{
 btnGlyphs.forEach((g,bi)=>{
  const x0=2606+bi*23;
  rect(x0,t,x0+22,t+21,'#EEEEEE','above',{color:'#999',width:1});
  hline(t+21.5,x0,x0+23,'#222',2);
  ann.push({xref:'paper',yref:'paper',x:X(x0+11),y:Y(t+10),text:'<b>'+g+'</b>',showarrow:false,xanchor:'center',yanchor:'middle',font:{family:"'DejaVu Sans',sans-serif",size:19,color:(pi===0&&bi===3)?'#888':'#000'}});
 });
});
tag(248,29,RED,'#fff','80,100');
tag(1017,26,'#3F7FE6','#fff','-56,353');
tag(1036,28,'#FFD24F','#000','3,013,157');
tag(1103,30,'#2F6FE0','#fff','-11,592');
tag(1162.5,30,RED,'#fff','65,218');
tag(1262,28,RED,'#fff','344,071');

layout.shapes=shapes;layout.annotations=ann;
Plotly.newPlot('c',traces,layout,{displayModeBar:false,staticPlot:true});
</script></body></html>
